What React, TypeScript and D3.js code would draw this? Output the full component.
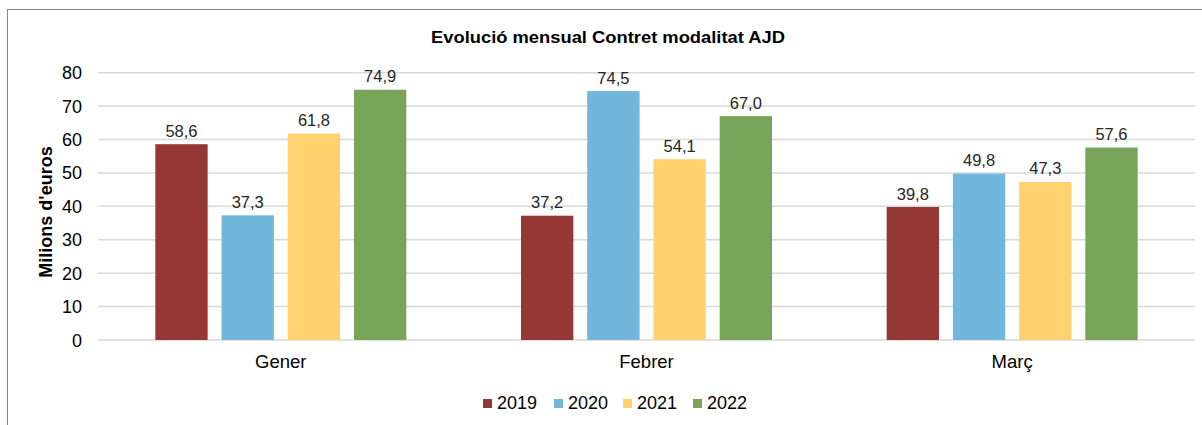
import React from "react";
import * as d3 from "d3";

const categories = ["Gener", "Febrer", "Març"];
const seriesNames = ["2019", "2020", "2021", "2022"];
const seriesColors = ["#953735", "#71B6DB", "#FFD16F", "#78A45A"];
const values2019 = [58.6, 37.2, 39.8];
const values2020 = [37.3, 74.5, 49.8];
const values2021 = [61.8, 54.1, 47.3];
const values2022 = [74.9, 67.0, 57.6];
const yTicks = [0, 10, 20, 30, 40, 50, 60, 70, 80];
const title = "Evolució mensual Contret modalitat AJD";
const yLabel = "Milions d'euros";

const seriesValues = [values2019, values2020, values2021, values2022];

const W = 1202;
const H = 425;
const plotLeft = 98;
const plotRight = 1195;
const plotTop = 72.7;
const plotBottom = 340;

const fmt = (v: number) => v.toFixed(1).replace(".", ",");

export default function App() {
  const x0 = d3.scaleBand<string>().domain(categories).range([plotLeft, plotRight]).paddingInner(0).paddingOuter(0);
  const groupWidth = 251;
  const x1 = d3
    .scaleBand<string>()
    .domain(seriesNames)
    .range([0, groupWidth])
    .paddingInner(0.21)
    .paddingOuter(0);
  const y = d3.scaleLinear().domain([0, 80]).range([plotBottom, plotTop]);
  const font = "Liberation Sans, Arial, sans-serif";

  const legendX = [483, 554, 623, 693];

  return (
    <svg
      width={W}
      height={H}
      style={{ position: "absolute", left: 0, top: 0, background: "#fff" }}
      fontFamily={font}
    >
      <rect x={7.5} y={9.5} width={1300} height={500} fill="#fff" stroke="#878787" strokeWidth={1} />
      <text
        x={608}
        y={43}
        textAnchor="middle"
        fontSize={17}
        fontWeight="bold"
        fill="#000"
        textLength={354}
        lengthAdjust="spacingAndGlyphs"
      >
        {title}
      </text>
      {yTicks.map((t) => (
        <g key={t}>
          <line x1={plotLeft} x2={plotRight} y1={y(t)} y2={y(t)} stroke="#d9d9d9" strokeWidth={1.5} />
          <text x={82} y={y(t) + 6.5} textAnchor="end" fontSize={18} fill="#000">
            {t}
          </text>
        </g>
      ))}
      <text
        transform={`translate(52, ${212}) rotate(-90)`}
        textAnchor="middle"
        fontSize={18}
        fontWeight="bold"
        fill="#000"
      >
        {yLabel}
      </text>
      {categories.map((c, ci) => {
        const gx = (x0(c) as number) + x0.bandwidth() / 2 - groupWidth / 2;
        return (
          <g key={c}>
            {seriesNames.map((s, si) => {
              const v = seriesValues[si][ci];
              const bx = gx + (x1(s) as number);
              return (
                <g key={s}>
                  <rect x={bx} y={y(v)} width={x1.bandwidth()} height={plotBottom - y(v)} fill={seriesColors[si]} />
                  <text
                    x={bx + x1.bandwidth() / 2}
                    y={y(v) - 7.5}
                    textAnchor="middle"
                    fontSize={16.5}
                    fill="#262626"
                  >
                    {fmt(v)}
                  </text>
                </g>
              );
            })}
            <text
              x={(x0(c) as number) + x0.bandwidth() / 2}
              y={368}
              textAnchor="middle"
              fontSize={18.5}
              fill="#000"
            >
              {c}
            </text>
          </g>
        );
      })}
      {seriesNames.map((s, si) => (
        <g key={s}>
          <rect x={legendX[si]} y={399} width={9} height={9} fill={seriesColors[si]} />
          <text x={legendX[si] + 14} y={409} fontSize={18} fill="#000">
            {s}
          </text>
        </g>
      ))}
    </svg>
  );
}
